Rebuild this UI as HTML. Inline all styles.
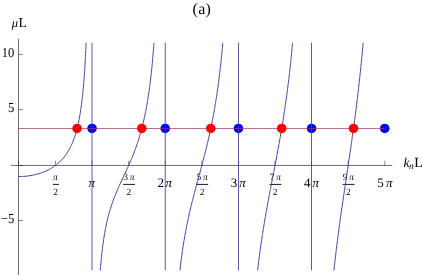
<!DOCTYPE html>
<html><head><meta charset="utf-8"><style>
html,body{margin:0;padding:0;background:#fff;}
body{width:422px;height:275px;overflow:hidden;position:relative;font-family:"Liberation Serif",serif;}
text.t{font-family:"Liberation Serif",serif;fill:#000;text-rendering:geometricPrecision;}
</style></head><body>
<svg width="422" height="275" viewBox="0 0 422 275" style="position:absolute;left:0;top:0;will-change:transform">
<g stroke="#000" stroke-opacity="0.57" stroke-width="1" fill="none">
<line x1="11" y1="165.45" x2="392.3" y2="165.45"/>
<line x1="18.5" y1="38.7" x2="18.5" y2="275"/>
</g>
<g stroke="#000" stroke-opacity="0.45" stroke-width="1" fill="none">
<line x1="18.5" y1="54.5" x2="23.1" y2="54.5"/>
<line x1="18.5" y1="109.5" x2="23.1" y2="109.5"/>
<line x1="18.5" y1="165.45" x2="23.1" y2="165.45"/>
<line x1="18.5" y1="220.5" x2="23.1" y2="220.5"/>
<line x1="18.50" y1="165.45" x2="18.50" y2="160.64999999999998"/>
<line x1="55.46" y1="165.45" x2="55.46" y2="160.64999999999998"/>
<line x1="92.05" y1="165.45" x2="92.05" y2="160.64999999999998"/>
<line x1="128.64" y1="165.45" x2="128.64" y2="160.64999999999998"/>
<line x1="165.22" y1="165.45" x2="165.22" y2="160.64999999999998"/>
<line x1="201.81" y1="165.45" x2="201.81" y2="160.64999999999998"/>
<line x1="238.40" y1="165.45" x2="238.40" y2="160.64999999999998"/>
<line x1="274.99" y1="165.45" x2="274.99" y2="160.64999999999998"/>
<line x1="311.58" y1="165.45" x2="311.58" y2="160.64999999999998"/>
<line x1="348.17" y1="165.45" x2="348.17" y2="160.64999999999998"/>
<line x1="384.76" y1="165.45" x2="384.76" y2="160.64999999999998"/>
</g>
<text x="192.5" y="14" font-size="16" letter-spacing="0.3" class="t">(a)</text>
<text x="11.7" y="27" font-size="12.5" font-style="italic" class="t">μ</text><text x="18.4" y="27" font-size="13.6" class="t">L</text>
<text x="403.4" y="167.1" font-size="13.5" class="t"><tspan font-style="italic">k</tspan><tspan font-style="italic" font-size="9.5" dy="1.9" dx="-0.3">n</tspan><tspan dy="-1.9" dx="0.4" font-size="14">L</tspan></text>
<text x="14.4" y="57.40" font-size="13.6" text-anchor="end" textLength="12.6" lengthAdjust="spacingAndGlyphs" class="t">10</text>
<text x="14.4" y="112.40" font-size="13.6" text-anchor="end" textLength="6.3" lengthAdjust="spacingAndGlyphs" class="t">5</text>
<text x="14.4" y="223.40" font-size="13.6" text-anchor="end" textLength="13.4" lengthAdjust="spacingAndGlyphs" class="t">−5</text>
<text x="55.46" y="179.7" font-size="9.5" text-anchor="middle" font-style="italic" class="t">π</text>
<line x1="52.86" y1="184.4" x2="58.96" y2="184.4" stroke="#000" stroke-width="0.9"/>
<text x="55.66" y="195.25" font-size="9.5" text-anchor="middle" class="t">2</text>
<text x="88.45" y="186.5" font-size="13" font-style="italic" class="t">π</text>
<text x="128.04" y="179.7" font-size="9.5" text-anchor="end" class="t">3</text>
<text x="129.84" y="179.7" font-size="9.5" font-style="italic" class="t">π</text>
<line x1="123.14" y1="184.4" x2="135.04" y2="184.4" stroke="#000" stroke-width="0.9"/>
<text x="128.84" y="195.25" font-size="9.5" text-anchor="middle" class="t">2</text>
<text x="164.12" y="186.5" font-size="13" text-anchor="end" class="t">2</text>
<text x="165.57" y="186.5" font-size="13" font-style="italic" class="t">π</text>
<text x="201.21" y="179.7" font-size="9.5" text-anchor="end" class="t">5</text>
<text x="203.01" y="179.7" font-size="9.5" font-style="italic" class="t">π</text>
<line x1="196.31" y1="184.4" x2="208.21" y2="184.4" stroke="#000" stroke-width="0.9"/>
<text x="202.01" y="195.25" font-size="9.5" text-anchor="middle" class="t">2</text>
<text x="237.30" y="186.5" font-size="13" text-anchor="end" class="t">3</text>
<text x="239.20" y="186.5" font-size="13" font-style="italic" class="t">π</text>
<text x="274.39" y="179.7" font-size="9.5" text-anchor="end" class="t">7</text>
<text x="276.19" y="179.7" font-size="9.5" font-style="italic" class="t">π</text>
<line x1="269.49" y1="184.4" x2="281.39" y2="184.4" stroke="#000" stroke-width="0.9"/>
<text x="275.19" y="195.25" font-size="9.5" text-anchor="middle" class="t">2</text>
<text x="310.48" y="186.5" font-size="13" text-anchor="end" class="t">4</text>
<text x="312.38" y="186.5" font-size="13" font-style="italic" class="t">π</text>
<text x="347.57" y="179.7" font-size="9.5" text-anchor="end" class="t">9</text>
<text x="349.37" y="179.7" font-size="9.5" font-style="italic" class="t">π</text>
<line x1="342.67" y1="184.4" x2="354.57" y2="184.4" stroke="#000" stroke-width="0.9"/>
<text x="348.37" y="195.25" font-size="9.5" text-anchor="middle" class="t">2</text>
<text x="383.66" y="186.5" font-size="13" text-anchor="end" class="t">5</text>
<text x="386.01" y="186.5" font-size="13" font-style="italic" class="t">π</text>
<circle cx="92.05" cy="128.45" r="4.8" fill="#0000ff"/>
<circle cx="165.22" cy="128.45" r="4.8" fill="#0000ff"/>
<circle cx="238.40" cy="128.45" r="4.8" fill="#0000ff"/>
<circle cx="311.58" cy="128.45" r="4.8" fill="#0000ff"/>
<circle cx="384.76" cy="128.45" r="4.8" fill="#0000ff"/>
<line x1="18.5" y1="128.45" x2="384.76" y2="128.45" stroke="#993D71" stroke-width="0.85" opacity="0.9"/>
<g fill="none" stroke="#3D3D99" stroke-width="1.0" stroke-linejoin="round">
<path d="M18.87 176.52L20.08 176.51L21.29 176.48L22.50 176.43L23.71 176.36L24.92 176.27L26.13 176.16L27.34 176.03L28.55 175.87L29.74 175.70L30.93 175.51L32.12 175.30L33.30 175.07L34.49 174.81L35.68 174.53L36.85 174.23L38.01 173.91L39.18 173.56L40.34 173.19L41.49 172.80L42.63 172.39L43.75 171.95L44.87 171.49L45.99 171.00L47.09 170.49L48.19 169.95L49.26 169.39L50.32 168.80L51.37 168.19L52.40 167.55L53.41 166.90L54.42 166.21L55.40 165.49L56.37 164.75L57.31 164.00L58.23 163.22L59.12 162.41L60.00 161.59L60.87 160.72L61.72 159.84L62.55 158.92L63.36 157.99L64.12 157.06L64.86 156.11L65.58 155.15L66.27 154.17L66.95 153.17L67.60 152.16L68.22 151.13L68.85 150.06L69.46 148.97L70.04 147.87L70.60 146.76L71.14 145.64L71.65 144.52L72.15 143.40L72.62 142.28L73.09 141.11L73.54 139.95L73.96 138.79L74.37 137.65L74.77 136.46L75.15 135.28L75.51 134.13L75.87 132.94L76.20 131.77L76.54 130.55L76.85 129.37L77.17 128.15L77.46 126.96L77.75 125.73L78.02 124.56L78.29 123.34L78.56 122.07L78.80 120.87L79.05 119.63L79.30 118.34L79.52 117.12L79.74 115.86L79.97 114.56L80.17 113.35L80.37 112.10L80.57 110.81L80.78 109.47L80.96 108.24L81.13 106.98L81.31 105.67L81.49 104.32L81.65 103.11L81.81 101.85L81.96 100.56L82.12 99.24L82.28 97.87L82.41 96.66L82.55 95.42L82.68 94.14L82.82 92.83L82.95 91.48L83.08 90.09L83.22 88.66L83.33 87.44L83.44 86.18L83.56 84.90L83.67 83.58L83.78 82.22L83.89 80.83L84.00 79.40L84.12 77.94L84.21 76.73L84.29 75.50L84.38 74.24L84.47 72.96L84.56 71.64L84.65 70.29L84.74 68.91L84.83 67.49L84.92 66.04L85.01 64.56L85.10 63.03L85.19 61.47L85.28 59.87L85.35 58.64L85.42 57.39L85.48 56.11L85.55 54.80L85.62 53.47L85.68 52.11L85.75 50.72L85.82 49.31L85.89 47.86L85.95 46.38L86.02 44.87L86.09 43.32L86.11 42.80"/>
<path d="M100.28 270.30L100.39 268.97L100.50 267.66L100.60 266.39L100.71 265.15L100.82 263.94L100.94 262.56L101.07 261.21L101.19 259.90L101.32 258.63L101.45 257.38L101.57 256.17L101.71 254.81L101.86 253.50L102.00 252.21L102.14 250.96L102.29 249.75L102.45 248.42L102.61 247.12L102.77 245.86L102.93 244.63L103.09 243.44L103.27 242.15L103.45 240.89L103.63 239.67L103.81 238.48L104.01 237.21L104.20 235.98L104.40 234.78L104.61 233.51L104.83 232.27L105.04 231.07L105.28 229.81L105.51 228.58L105.74 227.39L105.99 226.14L106.24 224.93L106.49 223.76L106.76 222.53L107.03 221.34L107.32 220.11L107.60 218.91L107.91 217.68L108.21 216.48L108.52 215.31L108.84 214.11L109.16 212.95L109.50 211.75L109.84 210.58L110.20 209.39L110.56 208.22L110.93 207.03L111.31 205.87L111.70 204.69L112.10 203.53L112.51 202.35L112.92 201.20L113.35 200.03L113.78 198.88L114.21 197.75L114.66 196.60L115.10 195.47L115.57 194.32L116.04 193.19L116.50 192.07L116.98 190.94L117.47 189.81L117.95 188.70L118.45 187.57L118.95 186.44L119.46 185.33L119.96 184.23L120.46 183.13L120.98 182.01L121.50 180.89L122.02 179.77L122.53 178.66L123.05 177.55L123.57 176.44L124.09 175.33L124.61 174.22L125.13 173.11L125.65 171.99L126.17 170.87L126.69 169.74L127.19 168.65L127.69 167.55L128.19 166.44L128.69 165.32L129.19 164.19L129.68 163.09L130.16 161.98L130.64 160.86L131.13 159.72L131.59 158.61L132.06 157.49L132.52 156.35L132.99 155.19L133.44 154.06L133.88 152.92L134.33 151.76L134.76 150.62L135.19 149.47L135.62 148.29L136.03 147.15L136.44 145.98L136.84 144.85L137.23 143.69L137.63 142.51L138.00 141.37L138.38 140.20L138.75 139.02L139.11 137.86L139.47 136.68L139.83 135.48L140.17 134.32L140.51 133.13L140.85 131.92L141.17 130.75L141.49 129.56L141.82 128.34L142.12 127.17L142.42 125.97L142.73 124.74L143.02 123.57L143.30 122.37L143.59 121.14L143.86 119.97L144.13 118.77L144.39 117.55L144.66 116.31L144.91 115.12L145.16 113.91L145.41 112.67L145.66 111.41L145.90 110.21L146.13 108.99L146.36 107.74L146.60 106.47L146.81 105.27L147.03 104.04L147.24 102.80L147.45 101.52L147.65 100.33L147.85 99.12L148.05 97.88L148.24 96.61L148.44 95.32L148.62 94.13L148.80 92.91L148.98 91.67L149.16 90.40L149.33 89.11L149.51 87.80L149.67 86.59L149.84 85.36L150.00 84.10L150.16 82.83L150.32 81.52L150.48 80.20L150.62 78.99L150.77 77.77L150.91 76.52L151.05 75.26L151.20 73.96L151.34 72.65L151.48 71.31L151.61 70.11L151.73 68.90L151.86 67.66L151.98 66.40L152.11 65.13L152.24 63.82L152.36 62.50L152.49 61.15L152.61 59.78L152.72 58.58L152.83 57.36L152.93 56.13L153.04 54.87L153.15 53.59L153.26 52.29L153.36 50.97L153.47 49.63L153.58 48.26L153.69 46.87L153.79 45.46L153.88 44.26L153.97 43.05L153.99 42.80"/>
<path d="M179.91 270.30L180.05 269.05L180.20 267.82L180.34 266.61L180.50 265.30L180.66 264.01L180.81 262.75L180.97 261.50L181.13 260.28L181.28 259.07L181.46 257.77L181.63 256.50L181.80 255.25L181.97 254.01L182.14 252.80L182.31 251.60L182.50 250.33L182.69 249.07L182.87 247.84L183.06 246.63L183.24 245.43L183.44 244.16L183.64 242.91L183.85 241.69L184.05 240.48L184.25 239.29L184.46 238.03L184.67 236.79L184.89 235.57L185.10 234.37L185.32 233.19L185.55 231.94L185.78 230.71L186.00 229.51L186.23 228.31L186.48 227.07L186.72 225.83L186.96 224.62L187.21 223.42L187.45 222.24L187.71 221.00L187.96 219.78L188.22 218.58L188.48 217.39L188.74 216.22L189.01 214.99L189.28 213.78L189.55 212.58L189.82 211.40L190.10 210.23L190.38 209.00L190.67 207.80L190.95 206.60L191.24 205.42L191.53 204.24L191.83 203.02L192.13 201.81L192.43 200.61L192.73 199.42L193.03 198.23L193.33 197.06L193.63 195.89L193.94 194.68L194.26 193.47L194.57 192.27L194.89 191.08L195.20 189.89L195.52 188.71L195.83 187.53L196.15 186.36L196.46 185.19L196.78 184.02L197.09 182.86L197.41 181.70L197.72 180.54L198.05 179.33L198.38 178.12L198.71 176.91L199.04 175.71L199.36 174.50L199.69 173.29L200.02 172.08L200.34 170.92L200.65 169.76L200.97 168.59L201.28 167.43L201.60 166.26L201.91 165.08L202.23 163.91L202.54 162.72L202.85 161.54L203.17 160.34L203.48 159.14L203.80 157.94L204.11 156.73L204.41 155.56L204.71 154.39L205.01 153.21L205.32 152.03L205.62 150.83L205.92 149.63L206.22 148.41L206.52 147.19L206.80 146.02L207.09 144.83L207.37 143.64L207.66 142.44L207.95 141.22L208.23 140.00L208.50 138.82L208.78 137.63L209.05 136.43L209.32 135.22L209.59 134.00L209.86 132.76L210.12 131.58L210.38 130.38L210.64 129.18L210.89 127.95L211.15 126.72L211.39 125.54L211.64 124.34L211.88 123.13L212.12 121.91L212.37 120.68L212.61 119.42L212.84 118.23L213.07 117.03L213.30 115.80L213.53 114.57L213.75 113.32L213.97 112.13L214.18 110.93L214.40 109.71L214.61 108.48L214.83 107.23L215.04 105.96L215.24 104.77L215.44 103.56L215.64 102.33L215.84 101.09L216.04 99.83L216.24 98.55L216.43 97.35L216.62 96.14L216.80 94.90L216.99 93.66L217.17 92.39L217.36 91.11L217.53 89.91L217.70 88.70L217.87 87.47L218.05 86.22L218.22 84.96L218.39 83.68L218.56 82.38L218.72 81.17L218.88 79.95L219.03 78.72L219.19 77.46L219.35 76.19L219.50 74.91L219.66 73.60L219.81 72.40L219.95 71.18L220.09 69.95L220.23 68.70L220.38 67.44L220.52 66.15L220.66 64.85L220.81 63.54L220.94 62.34L221.06 61.12L221.19 59.89L221.32 58.64L221.45 57.38L221.58 56.10L221.71 54.80L221.84 53.49L221.96 52.16L222.08 50.96L222.19 49.75L222.31 48.52L222.42 47.28L222.54 46.02L222.65 44.74L222.77 43.45L222.82 42.80"/>
<path d="M257.61 270.30L257.75 269.10L257.91 267.82L258.06 266.55L258.21 265.30L258.36 264.06L258.51 262.83L258.66 261.62L258.82 260.41L258.97 259.22L259.13 257.95L259.29 256.70L259.46 255.45L259.62 254.22L259.78 253.00L259.95 251.80L260.11 250.60L260.28 249.33L260.46 248.08L260.63 246.84L260.81 245.61L260.98 244.39L261.16 243.18L261.33 241.98L261.52 240.72L261.71 239.46L261.89 238.22L262.08 236.99L262.27 235.77L262.45 234.56L262.64 233.36L262.83 232.17L263.03 230.91L263.22 229.67L263.42 228.44L263.62 227.21L263.82 226.00L264.02 224.79L264.21 223.60L264.41 222.41L264.62 221.16L264.83 219.92L265.04 218.69L265.25 217.47L265.46 216.25L265.67 215.04L265.88 213.84L266.09 212.65L266.30 211.46L266.52 210.22L266.75 208.98L266.97 207.75L267.19 206.52L267.41 205.31L267.63 204.09L267.85 202.88L268.07 201.68L268.30 200.49L268.52 199.29L268.74 198.10L268.96 196.92L269.18 195.74L269.42 194.50L269.65 193.27L269.88 192.04L270.12 190.81L270.35 189.58L270.58 188.36L270.81 187.14L271.05 185.93L271.28 184.71L271.51 183.50L271.75 182.29L271.98 181.08L272.21 179.87L272.45 178.66L272.68 177.45L272.91 176.24L273.15 175.03L273.38 173.82L273.61 172.61L273.85 171.40L274.08 170.19L274.31 168.98L274.55 167.76L274.78 166.55L275.01 165.33L275.25 164.11L275.48 162.89L275.71 161.66L275.95 160.43L276.18 159.20L276.41 157.97L276.65 156.73L276.87 155.55L277.09 154.36L277.31 153.17L277.53 151.98L277.75 150.78L277.98 149.58L278.20 148.37L278.42 147.16L278.64 145.94L278.86 144.72L279.08 143.49L279.30 142.26L279.53 141.02L279.74 139.83L279.95 138.64L280.16 137.45L280.37 136.25L280.58 135.04L280.79 133.82L281.00 132.60L281.21 131.37L281.42 130.13L281.63 128.88L281.82 127.70L282.02 126.51L282.22 125.30L282.42 124.09L282.62 122.88L282.81 121.65L283.01 120.42L283.21 119.17L283.41 117.92L283.60 116.73L283.78 115.53L283.97 114.32L284.16 113.11L284.34 111.88L284.53 110.65L284.72 109.40L284.90 108.15L285.09 106.88L285.26 105.68L285.44 104.48L285.61 103.26L285.79 102.03L285.96 100.79L286.14 99.55L286.31 98.29L286.49 97.02L286.65 95.82L286.81 94.61L286.98 93.40L287.14 92.17L287.30 90.93L287.47 89.68L287.63 88.42L287.79 87.14L287.95 85.95L288.10 84.75L288.25 83.53L288.40 82.30L288.55 81.07L288.70 79.82L288.86 78.56L289.01 77.28L289.16 76.00L289.30 74.80L289.44 73.59L289.58 72.37L289.72 71.14L289.86 69.90L290.00 68.64L290.14 67.38L290.28 66.10L290.42 64.80L290.55 63.61L290.67 62.40L290.80 61.18L290.93 59.95L291.06 58.71L291.19 57.46L291.32 56.19L291.44 54.91L291.57 53.62L291.70 52.32L291.82 51.12L291.93 49.91L292.05 48.69L292.17 47.46L292.28 46.22L292.40 44.96L292.52 43.69L292.60 42.80"/>
<path d="M333.94 270.30L334.07 269.04L334.21 267.80L334.35 266.56L334.48 265.33L334.62 264.11L334.76 262.90L334.89 261.70L335.03 260.50L335.17 259.23L335.32 257.97L335.47 256.72L335.61 255.47L335.76 254.24L335.90 253.01L336.05 251.79L336.20 250.58L336.34 249.38L336.49 248.18L336.64 246.91L336.80 245.65L336.96 244.40L337.11 243.15L337.27 241.92L337.42 240.69L337.58 239.47L337.74 238.25L337.89 237.04L338.05 235.84L338.20 234.64L338.37 233.38L338.53 232.12L338.70 230.87L338.86 229.63L339.03 228.39L339.20 227.16L339.36 225.94L339.53 224.72L339.69 223.51L339.86 222.30L340.02 221.10L340.19 219.90L340.35 218.70L340.53 217.45L340.71 216.19L340.88 214.95L341.06 213.70L341.23 212.47L341.41 211.23L341.58 210.00L341.76 208.78L341.93 207.56L342.11 206.34L342.28 205.13L342.46 203.92L342.63 202.71L342.81 201.50L342.98 200.30L343.16 199.10L343.33 197.91L343.51 196.72L343.68 195.53L343.86 194.34L344.05 193.09L344.23 191.84L344.42 190.59L344.60 189.34L344.79 188.10L344.97 186.85L345.16 185.61L345.34 184.37L345.53 183.13L345.71 181.89L345.90 180.66L346.08 179.42L346.27 178.18L346.45 176.94L346.64 175.71L346.82 174.47L347.01 173.23L347.19 172.00L347.38 170.76L347.56 169.52L347.75 168.28L347.93 167.04L348.12 165.80L348.30 164.55L348.49 163.31L348.67 162.06L348.86 160.81L349.04 159.56L349.23 158.31L349.40 157.12L349.58 155.93L349.75 154.74L349.93 153.54L350.10 152.34L350.28 151.14L350.45 149.94L350.63 148.73L350.80 147.52L350.98 146.31L351.15 145.09L351.33 143.87L351.50 142.65L351.68 141.42L351.85 140.18L352.03 138.95L352.21 137.71L352.38 136.46L352.56 135.21L352.73 133.96L352.90 132.77L353.06 131.57L353.23 130.37L353.39 129.17L353.56 127.96L353.72 126.74L353.89 125.53L354.06 124.30L354.22 123.07L354.39 121.83L354.55 120.59L354.72 119.34L354.88 118.09L355.05 116.83L355.20 115.63L355.36 114.43L355.52 113.23L355.67 112.02L355.83 110.80L355.98 109.57L356.14 108.34L356.30 107.10L356.45 105.86L356.61 104.61L356.76 103.35L356.92 102.08L357.06 100.89L357.21 99.68L357.36 98.48L357.50 97.26L357.65 96.04L357.79 94.80L357.94 93.57L358.09 92.32L358.23 91.07L358.38 89.80L358.52 88.53L358.66 87.34L358.80 86.14L358.93 84.93L359.07 83.71L359.21 82.49L359.34 81.25L359.48 80.01L359.62 78.76L359.75 77.50L359.89 76.24L360.02 74.96L360.16 73.67L360.29 72.47L360.41 71.26L360.54 70.04L360.67 68.82L360.79 67.58L360.92 66.34L361.05 65.09L361.17 63.82L361.30 62.55L361.43 61.27L361.55 59.98L361.67 58.78L361.79 57.57L361.90 56.36L362.02 55.13L362.14 53.90L362.25 52.65L362.37 51.40L362.49 50.14L362.60 48.87L362.72 47.58L362.84 46.29L362.96 44.99L363.06 43.79L363.15 42.80"/>
<line x1="92.00" y1="42.8" x2="92.00" y2="270.3" stroke-width="0.85"/>
<line x1="165.27" y1="42.8" x2="165.27" y2="270.3" stroke-width="0.85"/>
<line x1="238.50" y1="42.8" x2="238.50" y2="270.3" stroke-width="0.85"/>
<line x1="311.50" y1="42.8" x2="311.50" y2="270.3" stroke-width="0.85"/>
</g>
<circle cx="77.09" cy="128.45" r="4.8" fill="#ff0000"/>
<circle cx="141.79" cy="128.45" r="4.8" fill="#ff0000"/>
<circle cx="210.79" cy="128.45" r="4.8" fill="#ff0000"/>
<circle cx="281.70" cy="128.45" r="4.8" fill="#ff0000"/>
<circle cx="353.49" cy="128.45" r="4.8" fill="#ff0000"/>
</svg>
</body></html>
